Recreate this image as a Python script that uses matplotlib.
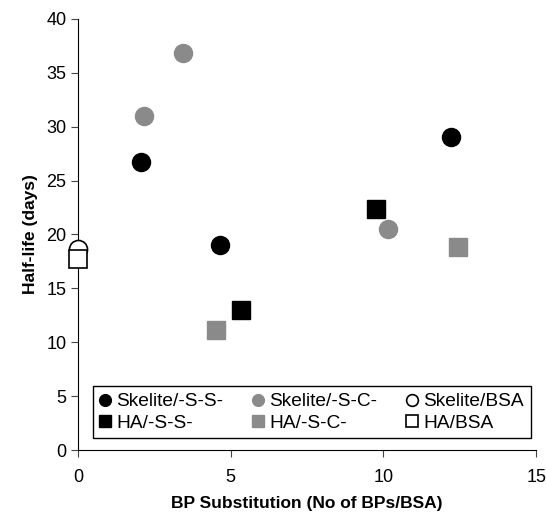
import matplotlib
matplotlib.use("Agg")
import matplotlib.pyplot as plt

plt.rcParams['font.family'] = ['Liberation Sans', 'DejaVu Sans']

# data
sk_ss_x = [2.05, 4.65, 12.2]
sk_ss_y = [26.7, 19.0, 29.0]
sk_sc_x = [2.15, 3.45, 10.15]
sk_sc_y = [31.0, 36.8, 20.5]
sk_bsa_x = [0.0]
sk_bsa_y = [18.7]
ha_ss_x = [5.35, 9.75]
ha_ss_y = [13.0, 22.4]
ha_sc_x = [4.5, 12.45]
ha_sc_y = [11.1, 18.8]
ha_bsa_x = [0.0]
ha_bsa_y = [17.7]

gray = '#8a8a8a'

fig = plt.figure(figsize=(5.46, 5.12), dpi=100)
ax = fig.add_axes([0.143, 0.121, 0.839, 0.842])

ms = 13
h1, = ax.plot(sk_ss_x, sk_ss_y, 'o', color='black', ms=ms, label='Skelite/-S-S-')
h2, = ax.plot(sk_sc_x, sk_sc_y, 'o', color=gray, ms=ms, label='Skelite/-S-C-')
h3, = ax.plot(sk_bsa_x, sk_bsa_y, 'o', mfc='white', mec='black', mew=1.2, ms=ms,
              label='Skelite/BSA', clip_on=False, zorder=5)
h4, = ax.plot(ha_ss_x, ha_ss_y, 's', color='black', ms=ms, label='HA/-S-S-')
h5, = ax.plot(ha_sc_x, ha_sc_y, 's', color=gray, ms=ms, label='HA/-S-C-')
h6, = ax.plot(ha_bsa_x, ha_bsa_y, 's', mfc='white', mec='black', mew=1.2, ms=ms,
              label='HA/BSA', clip_on=False, zorder=6)

ax.set_xlim(0, 15)
ax.set_ylim(0, 40)
ax.set_xticks([0, 5, 10, 15])
ax.set_yticks(range(0, 41, 5))
ax.spines['top'].set_visible(False)
ax.spines['right'].set_visible(False)
ax.tick_params(labelsize=13, length=5, color='#444444')
ax.tick_params(axis='x', pad=9)
ax.set_xlabel('BP Substitution (No of BPs/BSA)', fontsize=12.5, fontweight='bold', labelpad=7)
ax.set_ylabel('Half-life (days)', fontsize=12.5, fontweight='bold', labelpad=6)

leg = ax.legend([h1, h4, h2, h5, h3, h6],
                ['Skelite/-S-S-', 'HA/-S-S-', 'Skelite/-S-C-', 'HA/-S-C-', 'Skelite/BSA', 'HA/BSA'],
                ncol=3, loc='lower center', bbox_to_anchor=(0.51, 0.005),
                fontsize=13.8, markerscale=0.65, handlelength=0.6, handletextpad=0.3,
                columnspacing=1.5, fancybox=False, edgecolor='black', framealpha=1,
                borderpad=0.35, labelspacing=0.2)
leg.get_frame().set_linewidth(1.0)

fig.savefig('out.png', dpi=100)
